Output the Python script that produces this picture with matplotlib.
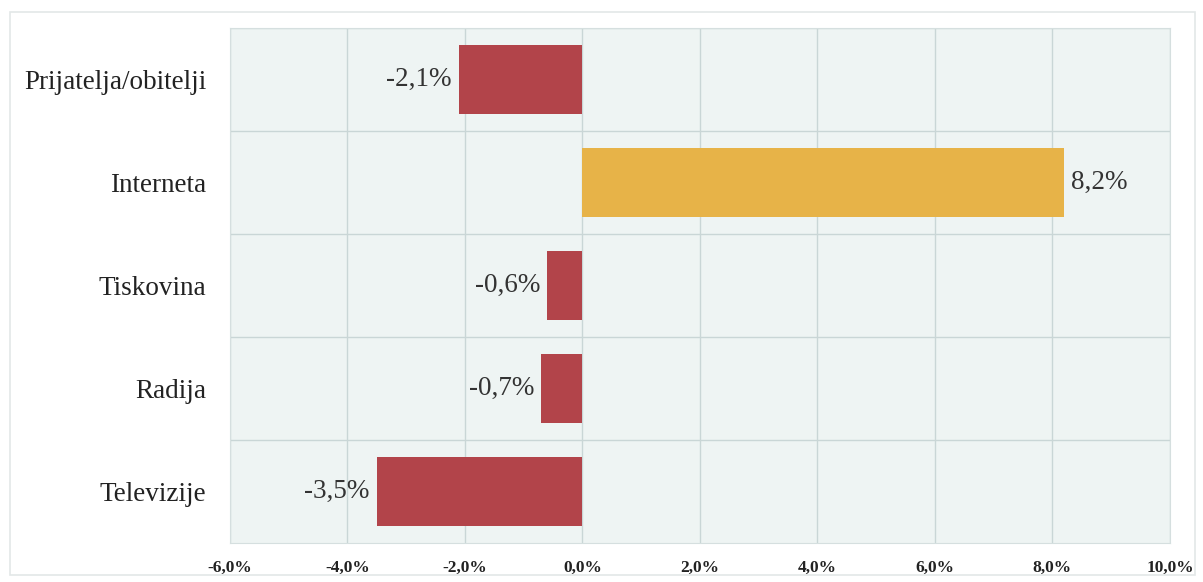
import matplotlib
matplotlib.use("Agg")
import matplotlib.pyplot as plt
from matplotlib.patches import Rectangle

categories = ["Prijatelja/obitelji", "Interneta", "Tiskovina", "Radija", "Televizije"]
values = [-2.1, 8.2, -0.6, -0.7, -3.5]
value_labels = ["-2,1%", "8,2%", "-0,6%", "-0,7%", "-3,5%"]
xticks = [-6, -4, -2, 0, 2, 4, 6, 8, 10]
xtick_labels = ["-6,0%", "-4,0%", "-2,0%", "0,0%", "2,0%", "4,0%", "6,0%", "8,0%", "10,0%"]

RED = "#b2444a"
ORANGE = "#e7b348"

fig = plt.figure(figsize=(12.03, 5.82), dpi=100)
fig.patch.set_facecolor("white")
fig.patches.append(Rectangle((0.008, 0.012), 0.985, 0.968, transform=fig.transFigure,
                             fill=False, edgecolor="#e3e8e8", linewidth=1.2))
ax = fig.add_axes([0.191, 0.067, 0.7815, 0.885])
ax.set_facecolor("#eef4f3")

ypos = list(range(len(categories)))[::-1]
colors = [ORANGE if v > 0 else RED for v in values]
ax.barh(ypos, values, height=0.67, color=colors, zorder=3)

ax.set_xlim(-6, 10)
ax.set_ylim(-0.5, len(categories) - 0.5)
ax.set_xticks(xticks)
ax.set_xticklabels(xtick_labels, fontfamily="Liberation Serif", fontweight="bold", fontsize=12.5,
                   color="#222222")
ax.set_yticks(ypos)
ax.set_yticklabels(categories, fontfamily="Liberation Serif", fontsize=19.5, color="#222222")
ax.set_yticks([y + 0.5 for y in ypos[1:]] + [ypos[0] + 0.5], minor=True)
ax.tick_params(axis="both", length=0)
ax.tick_params(axis="y", which="minor", length=0)
ax.tick_params(axis="y", pad=17)
ax.tick_params(axis="x", pad=12)

ax.grid(axis="x", which="major", color="#c9d6d6", linewidth=1, zorder=1)
ax.grid(axis="y", which="minor", color="#c9d6d6", linewidth=1, zorder=1)
ax.grid(axis="y", which="major", visible=False)
for s in ax.spines.values():
    s.set_color("#d5dfdf")

for y, v, lab in zip(ypos, values, value_labels):
    if v < 0:
        ax.text(v - 0.12, y, lab, ha="right", va="center", fontsize=19.5,
                fontfamily="Liberation Serif", color="#333333", zorder=4)
    else:
        ax.text(v + 0.12, y, lab, ha="left", va="center", fontsize=19.5,
                fontfamily="Liberation Serif", color="#333333", zorder=4)

fig.savefig("out.png", dpi=100)
